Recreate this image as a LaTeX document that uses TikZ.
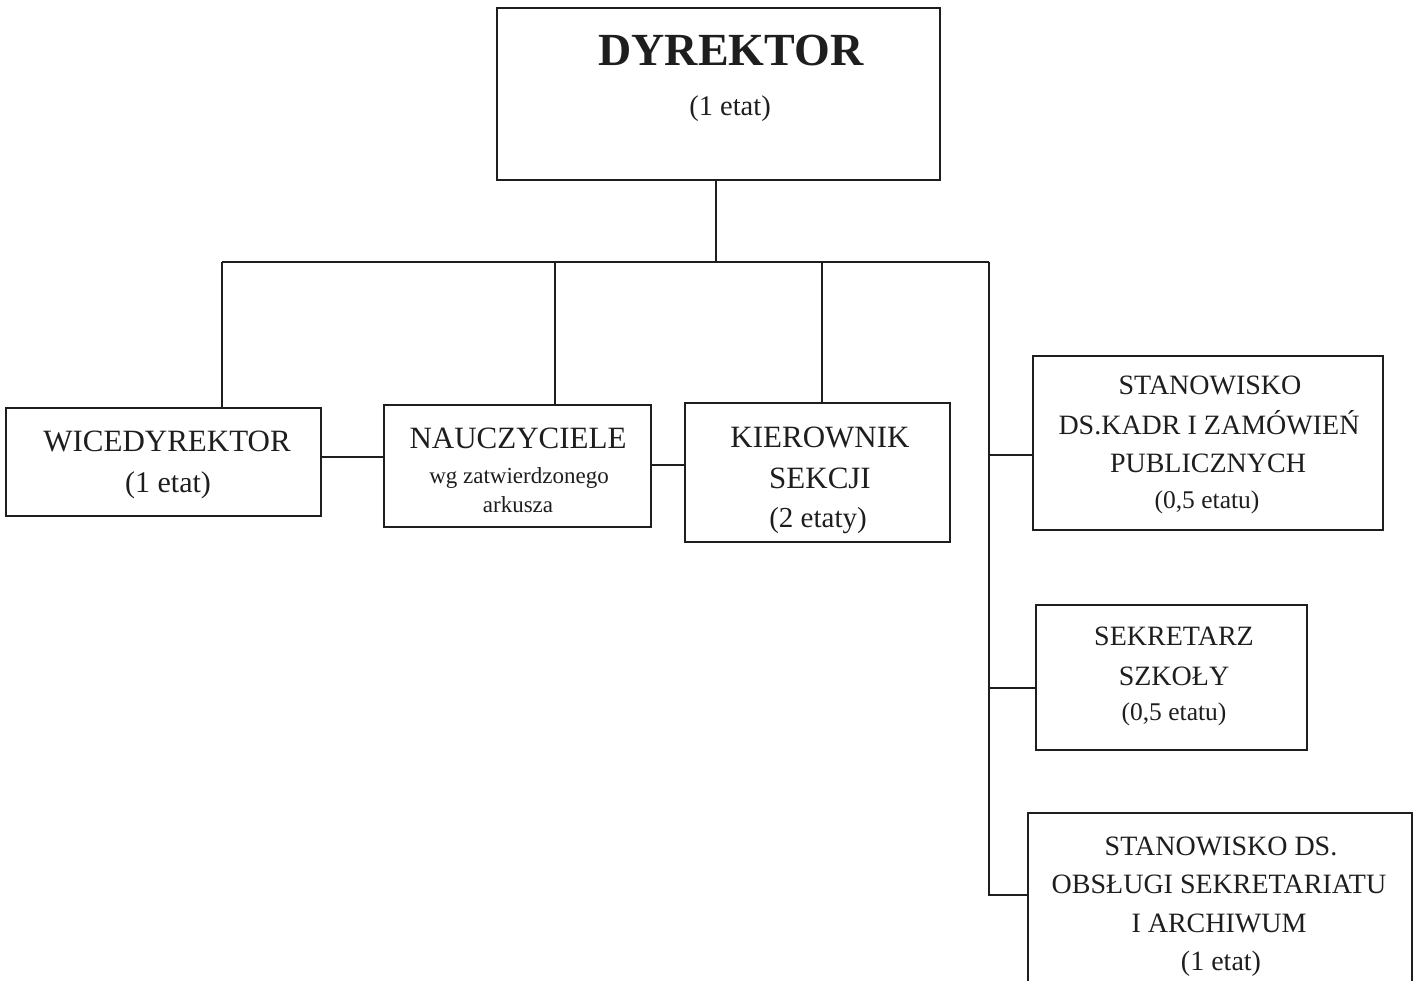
\documentclass[tikz,border=0pt]{standalone}
\usepackage{fontspec}
\setmainfont{Liberation Serif}
\definecolor{ink}{HTML}{1E1E1E}
\begin{document}
\begin{tikzpicture}[x=1pt,y=-1pt,
  box/.style={draw=ink, line width=1.8pt, inner sep=0pt},
  conn/.style={draw=ink, line width=1.8pt},
  txt/.style={anchor=base, inner sep=0pt, text=ink},
  big/.style={txt, font=\fontsize{31}{33}\selectfont},
  mid/.style={txt, font=\fontsize{28}{30}\selectfont},
  sml/.style={txt, font=\fontsize{25.5}{27}\selectfont},
  tiny/.style={txt, font=\fontsize{23}{25}\selectfont}]
\useasboundingbox (0,0) rectangle (1420,980);
\clip (0,0) rectangle (1420,980);
\fill[white] (0,0) rectangle (1420,980);

% boxes
\node[box, minimum width=443pt, minimum height=172pt] (dyr)  at (718.5,94) {};
\node[box, minimum width=315pt, minimum height=108pt] (wice) at (163.5,462) {};
\node[box, minimum width=267pt, minimum height=122pt] (nauc) at (517.5,466) {};
\node[box, minimum width=265pt, minimum height=139pt] (kier) at (817.5,472.5) {};
\node[box, minimum width=350pt, minimum height=174pt] (stan) at (1208,443) {};
\node[box, minimum width=271pt, minimum height=145pt] (sekr) at (1171.5,677.5) {};
\node[box, minimum width=384pt, minimum height=177pt] (obs)  at (1220,901.5) {};

% texts
\node[txt, font=\fontsize{46}{48}\bfseries\selectfont] (d1) at (731,65) {DYREKTOR};
\node[txt, font=\fontsize{28.5}{30}\selectfont] (d2) at (730,115) {(1 etat)};

\node[big] (w1) at (167,451) {WICEDYREKTOR};
\node[txt, font=\fontsize{30}{32}\selectfont] (w2) at (168,492) {(1 etat)};

\node[big] (n1) at (518,448) {NAUCZYCIELE};
\node[tiny] (n2) at (519,483) {wg zatwierdzonego};
\node[tiny] (n3) at (518,512) {arkusza};

\node[big] (k1) at (820,447) {KIEROWNIK};
\node[big] (k2) at (820,488) {SEKCJI};
\node[txt, font=\fontsize{29}{31}\selectfont] (k3) at (818,527) {(2 etaty)};

\node[mid] (s1) at (1210,394) {STANOWISKO};
\node[mid] (s2) at (1209,434) {DS.KADR I ZAMÓWIEŃ};
\node[mid] (s3) at (1208,472) {PUBLICZNYCH};
\node[sml] (s4) at (1207,508) {(0,5 etatu)};

\node[mid] (r1) at (1174,645) {SEKRETARZ};
\node[mid] (r2) at (1174,685) {SZKOŁY};
\node[sml] (r3) at (1174,720) {(0,5 etatu)};

\node[mid] (o1) at (1221,855) {STANOWISKO DS.};
\node[mid] (o2) at (1219,893) {OBSŁUGI SEKRETARIATU};
\node[mid] (o3) at (1219,932) {I ARCHIWUM};
\node[mid] (o4) at (1221,970) {(1 etat)};

% connectors
\coordinate (bus) at (716,262);
\coordinate (bl)  at (222,262);
\coordinate (bn)  at (555,262);
\coordinate (bk)  at (822,262);
\coordinate (br)  at (989,262);
\coordinate (j1)  at (989,455);
\coordinate (j2)  at (989,688);
\coordinate (j3)  at (989,895);
\coordinate (c1)  at (321,457);
\coordinate (c2)  at (651,465);

\draw[conn] (bus |- dyr.south) -- (bus);
\draw[conn] (bl) -- (br);
\draw[conn] (bl) -- (bl |- wice.north);
\draw[conn] (bn) -- (bn |- nauc.north);
\draw[conn] (bk) -- (bk |- kier.north);
\draw[conn] (br) -- (j3) -- (j3 -| obs.west);
\draw[conn] (j1) -- (j1 -| stan.west);
\draw[conn] (j2) -- (j2 -| sekr.west);
\draw[conn] (c1) -- (c1 -| nauc.west);
\draw[conn] (c2) -- (c2 -| kier.west);
\end{tikzpicture}
\end{document}
